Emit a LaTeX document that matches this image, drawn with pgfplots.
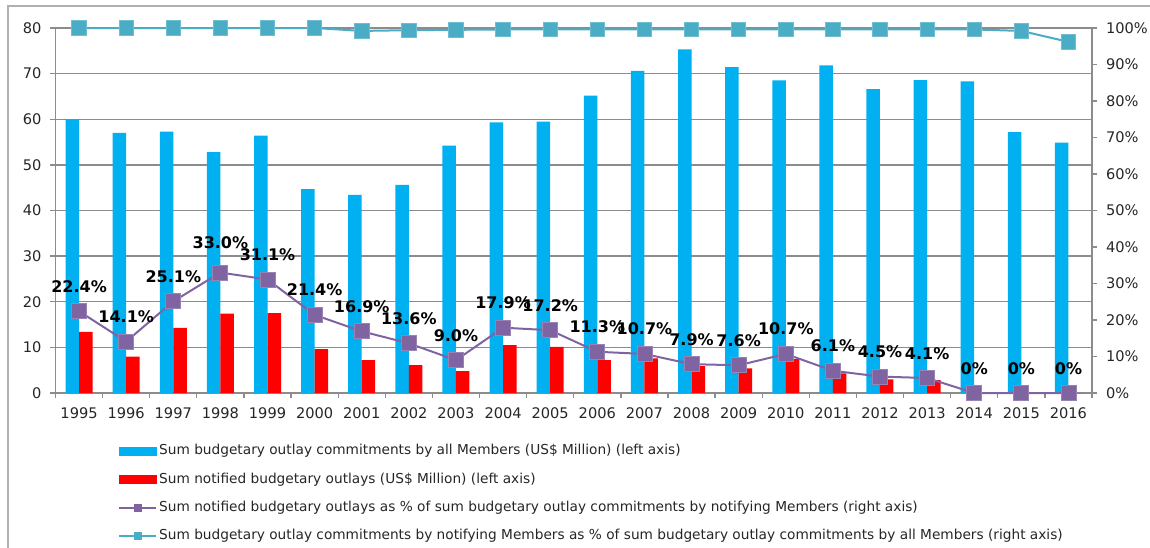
\documentclass[border=0pt]{standalone}
\usepackage{pgfplots}
\pgfplotsset{compat=1.18}
\usepackage{pgfplotstable}
\usepackage{fontspec}
\setmainfont{DejaVu Sans}
\definecolor{cblue}{HTML}{00B0F0}
\definecolor{cred}{HTML}{FF0000}
\definecolor{cpurple}{HTML}{8064A2}
\definecolor{cteal}{HTML}{4BACC6}
\definecolor{cgrid}{HTML}{8C8C8C}
\definecolor{cframe}{HTML}{B0B0B0}

\pgfplotstableread{
x blue red pct lab teal dy
0 60.0 13.4 22.4 22.4 100 9.5
1 57.0 8.0 14.1 14.1 100 9.5
2 57.3 14.3 25.1 25.1 100 9.5
3 52.8 17.4 33.0 33.0 100 12
4 56.4 17.5 31.1 31.1 100 9.5
5 44.7 9.6 21.4 21.4 100 9.5
6 43.4 7.2 16.9 16.9 99.2 9.5
7 45.6 6.1 13.6 13.6 99.4 9.5
8 54.2 4.8 9.0 9.0 99.5 9.5
9 59.3 10.5 17.9 17.9 99.6 9.5
10 59.5 10.1 17.2 17.2 99.6 9.5
11 65.2 7.2 11.3 11.3 99.6 9.5
12 70.6 7.6 10.7 10.7 99.6 9.5
13 75.3 5.9 7.9 7.9 99.6 9.5
14 71.4 5.4 7.6 7.6 99.6 9.5
15 68.5 7.4 10.7 10.7 99.6 9.5
16 71.8 4.3 6.1 6.1 99.6 9.5
17 66.6 3.0 4.5 4.5 99.6 9.5
18 68.6 2.8 4.1 4.1 99.6 9.5
19 68.3 0 0 0 99.6 9.5
20 57.2 0 0 0 99.2 9.5
21 54.9 0 0 0 96.2 9.5
}\data

\pgfplotsset{
  common/.style={
    at={(0,0)}, anchor=south west,
    scale only axis, width=518.25pt, height=182.5pt,
    xmin=-0.5, xmax=21.5,
    tick align=outside,
    major tick length=2.5pt, minor tick length=2.5pt,
    axis line style={cgrid, line width=0.65pt, -},
    every outer x axis line/.append style={-},
    every outer y axis line/.append style={-},
    tick style={cgrid, line width=0.65pt},
    ticklabel style={font=\fontsize{7.3}{8.5}\selectfont, text=black!85},
    /pgf/number format/assume math mode=true,
  }
}

\begin{document}
\begin{tikzpicture}
\useasboundingbox (-27.75pt,-77pt) rectangle (547.25pt,196.5pt);
\draw[cframe, line width=0.6pt] (-23.75pt,-90pt) -- (-23.75pt,193.5pt) -- (560pt,193.5pt);

\begin{axis}[common,
  ymin=0, ymax=80, ytick={0,10,...,80},
  xtick={0,...,21},
  xticklabels={1995,1996,1997,1998,1999,2000,2001,2002,2003,2004,2005,2006,2007,2008,2009,2010,2011,2012,2013,2014,2015,2016},
  major x tick style={draw=none},
  minor xtick={-0.5,0.5,...,21.5},
  axis x line*=bottom, axis y line*=left,
  ymajorgrids, grid style={cgrid, line width=0.65pt},
  yticklabel style={xshift=-1pt},
  xticklabel style={yshift=-1.5pt},
]
\addplot[ybar, bar width=6.75pt, bar shift=-3.375pt, fill=cblue, draw=none] table[x=x,y=blue]{\data};
\addplot[ybar, bar width=6.75pt, bar shift=3.375pt, fill=cred, draw=none] table[x=x,y=red]{\data};
\end{axis}

\begin{axis}[common,
  ymin=0, ymax=100, ytick={0,10,...,100},
  yticklabel={\pgfmathprintnumber{\tick}\%},
  yticklabel style={xshift=1pt},
  axis y line*=right, axis x line=none,
  clip=false,
  legend style={at={(0.0603,-0.1356)}, anchor=north west, draw=none, fill=none,
    inner sep=0pt, row sep=5.6pt,
    font=\fontsize{6.85}{7.8}\selectfont,
    nodes={inner sep=1pt, text height=5pt, text depth=1.5pt, text=black!85}},
  legend cell align=left,
]
\addlegendimage{legend image code/.code={\fill[cblue] (0pt,-2pt) rectangle (18.5pt,2pt);}}
\addlegendentry{Sum budgetary outlay commitments by all Members (US\$ Million) (left axis)}
\addlegendimage{legend image code/.code={\fill[cred] (0pt,-2pt) rectangle (18.5pt,2pt);}}
\addlegendentry{Sum notified budgetary outlays (US\$ Million) (left axis)}
\addlegendimage{legend image code/.code={\draw[cpurple, line width=0.9pt] (0pt,0pt) -- (18.5pt,0pt); \fill[cpurple] (7.5pt,-1.9pt) rectangle (11pt,1.9pt);}}
\addlegendentry{Sum notified budgetary outlays as \% of sum budgetary outlay commitments by notifying Members (right axis)}
\addlegendimage{legend image code/.code={\draw[cteal, line width=0.9pt] (0pt,0pt) -- (18.5pt,0pt); \fill[cteal] (7.5pt,-1.9pt) rectangle (11pt,1.9pt);}}
\addlegendentry{Sum budgetary outlay commitments by notifying Members as \% of sum budgetary outlay commitments by all Members (right axis)}

\addplot[forget plot, cteal, line width=1pt, mark=square*, mark size=3.6pt,
  mark options={fill=cteal, draw=cteal!80!white, line width=0.4pt}]
  table[x=x,y=teal]{\data};
\addplot[forget plot, cpurple, line width=1pt, mark=square*, mark size=3.75pt,
  mark options={fill=cpurple, draw=cpurple!80!white, line width=0.4pt},
  point meta=explicit symbolic,
  visualization depends on={\thisrow{dy} \as \dy},
  nodes near coords={\pgfplotspointmeta\%},
  every node near coord/.append style={font=\bfseries\fontsize{8}{9}\selectfont, text=black, anchor=base, yshift=\dy pt, inner sep=0pt}]
  table[x=x,y=pct,meta=lab]{\data};
\end{axis}
\end{tikzpicture}
\end{document}
